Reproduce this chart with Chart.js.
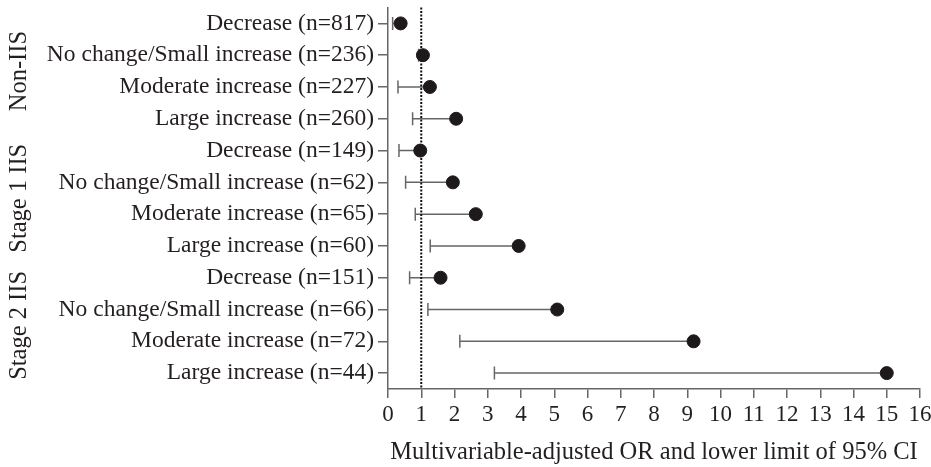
<!DOCTYPE html>
<html>
<head>
<meta charset="utf-8">
<script src="https://cdn.jsdelivr.net/npm/chart.js@4.4.0/dist/chart.umd.min.js"></script>
<style>
  html, body { margin: 0; padding: 0; background: #fff; }
  #wrap { width: 931px; height: 467px; }
</style>
</head>
<body>
<div id="wrap"><canvas id="grafico"></canvas></div>
<script>
// filas del gráfico (de arriba hacia abajo)
const etiquetas = [
  'Decrease (n=817)', 'No change/Small increase (n=236)', 'Moderate increase (n=227)', 'Large increase (n=260)',
  'Decrease (n=149)', 'No change/Small increase (n=62)', 'Moderate increase (n=65)', 'Large increase (n=60)',
  'Decrease (n=151)', 'No change/Small increase (n=66)', 'Moderate increase (n=72)', 'Large increase (n=44)'
];
const grupos = ['Non-IIS', 'Stage 1 IIS', 'Stage 2 IIS'];
const filasPorGrupo = [4, 4, 4];

// OR ajustado y límite inferior del IC 95%
const oddsRatio = [0.38, 1.05, 1.26, 2.05, 0.97, 1.95, 2.64, 3.93, 1.58, 5.09, 9.19, 15.0];
const limiteInferior = [0.14, 0.92, 0.30, 0.74, 0.33, 0.53, 0.82, 1.27, 0.65, 1.20, 2.16, 3.20];

const ticksX = [0, 1, 2, 3, 4, 5, 6, 7, 8, 9, 10, 11, 12, 13, 14, 15, 16];
const lineaReferencia = 1;

const fuente = '"Liberation Serif", "Times New Roman", serif';
const colorTexto = '#231f20';
const colorEje = '#666';

// lineas del IC + linea punteada + etiquetas de grupo
const pluginExtras = {
  id: 'extras',
  beforeDatasetsDraw(chart) {
    const { ctx, scales: { x, y }, chartArea } = chart;
    ctx.save();
    // IC inferior
    ctx.strokeStyle = '#666';
    ctx.lineWidth = 1.5;
    oddsRatio.forEach((or, i) => {
      const py = y.getPixelForValue(i);
      const x0 = x.getPixelForValue(limiteInferior[i]);
      const x1 = x.getPixelForValue(or);
      ctx.beginPath();
      ctx.moveTo(x0, py);
      ctx.lineTo(x1, py);
      ctx.moveTo(x0, py - 6.5);
      ctx.lineTo(x0, py + 6.5);
      ctx.stroke();
    });
    // linea punteada en OR = 1
    const xr = x.getPixelForValue(lineaReferencia);
    ctx.strokeStyle = '#111';
    ctx.lineWidth = 2;
    ctx.setLineDash([2, 1.5]);
    ctx.beginPath();
    ctx.moveTo(xr, chartArea.top);
    ctx.lineTo(xr, chartArea.bottom);
    ctx.stroke();
    ctx.restore();
  },
  afterDraw(chart) {
    const { ctx, scales: { y } } = chart;
    ctx.save();
    ctx.fillStyle = colorTexto;
    ctx.font = '24.5px ' + fuente;
    ctx.textAlign = 'center';
    ctx.textBaseline = 'middle';
    let inicio = 0;
    grupos.forEach((g, k) => {
      const fin = inicio + filasPorGrupo[k] - 1;
      const centro = (y.getPixelForValue(inicio) + y.getPixelForValue(fin)) / 2;
      ctx.save();
      ctx.translate(20, centro);
      ctx.rotate(-Math.PI / 2);
      ctx.fillText(g, 0, 0);
      ctx.restore();
      inicio = fin + 1;
    });
    ctx.restore();
  }
};

new Chart(document.getElementById('grafico'), {
  type: 'scatter',
  data: {
    datasets: [{
      data: oddsRatio.map((v, i) => ({ x: v, y: i })),
      backgroundColor: '#1e1a1b',
      borderColor: '#1e1a1b',
      pointRadius: 6.5,
      pointHoverRadius: 6.5
    }]
  },
  options: {
    responsive: true,
    maintainAspectRatio: false,
    animation: false,
    layout: { padding: { top: 2, right: 11, left: 0, bottom: 0 } },
    plugins: {
      legend: { display: false },
      tooltip: { enabled: false }
    },
    scales: {
      x: {
        type: 'linear',
        min: 0,
        max: 16,
        afterBuildTicks: s => { s.ticks = ticksX.map(v => ({ value: v })); },
        afterFit: s => { s.height = 78; s.paddingRight = 0; s.paddingLeft = 0; },
        ticks: { color: colorTexto, font: { family: fuente, size: 23 }, padding: 3, maxRotation: 0, autoSkip: false },
        grid: { drawOnChartArea: false, color: colorEje, tickLength: 9, lineWidth: 1.5 },
        border: { color: colorEje, width: 1.5 },
        title: {
          display: true,
          text: 'Multivariable-adjusted OR and lower limit of 95% CI',
          color: colorTexto,
          font: { family: fuente, size: 24.5 },
          padding: { top: 2, bottom: 0 }
        }
      },
      y: {
        type: 'linear',
        min: -0.5,
        max: 11.5,
        reverse: true,
        afterBuildTicks: s => { s.ticks = etiquetas.map((_, i) => ({ value: i })); },
        afterFit: s => { s.width = 388; s.paddingTop = 0; s.paddingBottom = 0; },
        ticks: {
          color: colorTexto,
          font: { family: fuente, size: 23.5 },
          padding: 4,
          autoSkip: false,
          callback: v => etiquetas[v]
        },
        grid: { drawOnChartArea: false, color: colorEje, tickLength: 10, lineWidth: 1.5 },
        border: { color: colorEje, width: 1.5 }
      }
    }
  },
  plugins: [pluginExtras]
});
</script>
</body>
</html>
